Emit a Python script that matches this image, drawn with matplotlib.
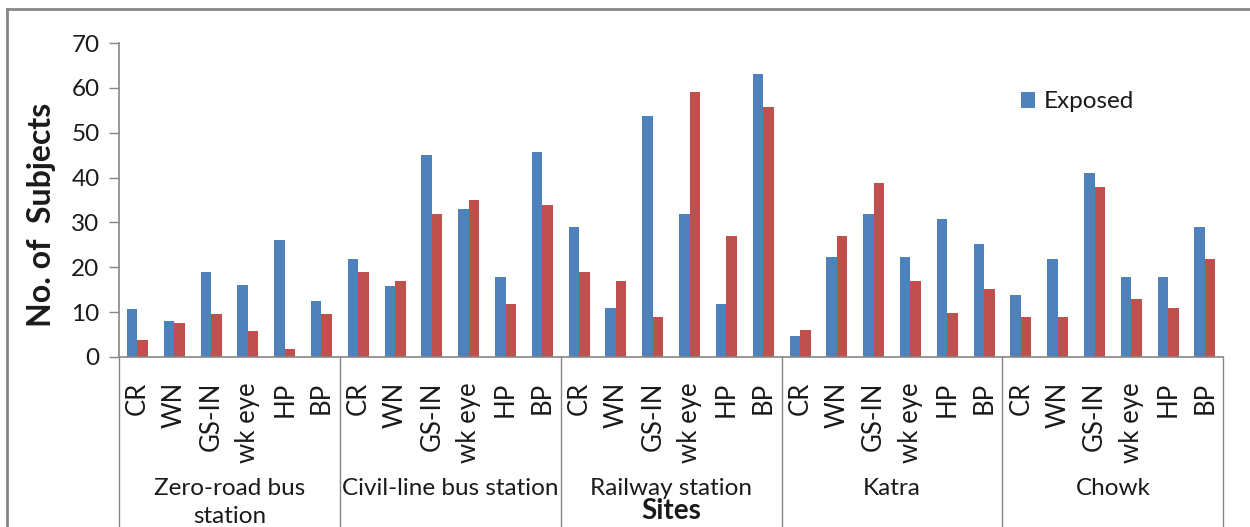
import matplotlib
matplotlib.use("Agg")
import matplotlib.pyplot as plt
import matplotlib.transforms as mtransforms
import numpy as np

plt.rcParams['font.family'] = ['Lato', 'DejaVu Sans']

sites = ['Zero-road bus\nstation', 'Civil-line bus station', 'Railway station', 'Katra', 'Chowk']
conditions = ['CR', 'WN', 'GS-IN', 'wk eye', 'HP', 'BP']

exposed = [10.6, 8.0, 19.0, 16.1, 26.1, 12.4,
           21.8, 15.8, 45.0, 32.9, 17.8, 45.8,
           28.9, 10.9, 53.8, 31.8, 11.8, 63.0,
           4.6, 22.3, 31.8, 22.3, 30.7, 25.2,
           13.8, 21.8, 41.0, 17.8, 17.8, 28.9]
control = [3.8, 7.5, 9.5, 5.8, 1.8, 9.5,
           18.9, 16.9, 31.8, 34.9, 11.8, 33.8,
           18.9, 16.9, 8.9, 59.1, 27.0, 55.8,
           6.1, 27.0, 38.7, 16.9, 9.8, 15.2,
           8.9, 8.9, 37.8, 13.0, 10.9, 21.8]

blue = '#4F81BD'
red = '#C0504D'
grey = '#868686'
txt = '#1a1a1a'

fig = plt.figure(figsize=(12.5, 5.27), dpi=100)
ax = fig.add_axes([0.0952, 0.3226, 0.8835, 0.5958])

n = len(exposed)
x = np.arange(n)
w = 0.2857
ax.bar(x - w / 2, exposed, w, color=blue, label='Exposed')
ax.bar(x + w / 2, control, w, color=red, label='_nolegend_')

ax.set_xlim(-0.5, n - 0.5)
ax.set_ylim(0, 70)
ax.set_yticks(range(0, 71, 10))
ax.tick_params(axis='y', direction='out', length=7, width=1, color=grey,
               labelsize=17.5, pad=7, labelcolor=txt)

labels = conditions * len(sites)
ax.set_xticks(x)
ax.set_xticklabels(labels, rotation=90, fontsize=18.5, va='top', color=txt)
ax.tick_params(axis='x', length=0, pad=18)

for s in ['top', 'right']:
    ax.spines[s].set_visible(False)
for s in ['left', 'bottom']:
    ax.spines[s].set_color(grey)
    ax.spines[s].set_linewidth(1.2)

# group separators below the axis
trans = mtransforms.blended_transform_factory(ax.transData, ax.transAxes)
for i in range(len(sites) + 1):
    xb = i * len(conditions) - 0.5
    ax.plot([xb, xb], [0, -1.2], transform=trans, color=grey, lw=1, clip_on=False)

# group labels
ftrans = mtransforms.blended_transform_factory(ax.transData, fig.transFigure)
for i, site in enumerate(sites):
    xc = i * len(conditions) + (len(conditions) - 1) / 2
    ax.text(xc, 1 - 478 / 527, site, transform=ftrans, ha='center', va='top',
            fontsize=17.5, color=txt, linespacing=1.4)

fig.text(671 / 1250, 1 - 511 / 527, 'Sites', ha='center', va='center',
         fontsize=20, fontweight='bold', color=txt)
fig.text(42 / 1250, 1 - 215 / 527, 'No. of  Subjects', ha='center', va='center',
         rotation=90, fontsize=23, fontweight='bold', color=txt)

ax.legend(loc='center left', bbox_to_anchor=(999 / 1250, 1 - 102 / 527),
          bbox_transform=fig.transFigure, frameon=False, fontsize=17.5,
          handlelength=0.6, handleheight=0.6, handletextpad=0.35,
          labelcolor=txt)

# outer chart border (left and top visible)
fig.add_artist(plt.Line2D([7 / 1250, 7 / 1250], [0, 1 - 9 / 527], transform=fig.transFigure,
                          color=grey, lw=2))
fig.add_artist(plt.Line2D([7 / 1250, 1], [1 - 9 / 527, 1 - 9 / 527], transform=fig.transFigure,
                          color=grey, lw=2))

fig.savefig('out.png', dpi=100)
